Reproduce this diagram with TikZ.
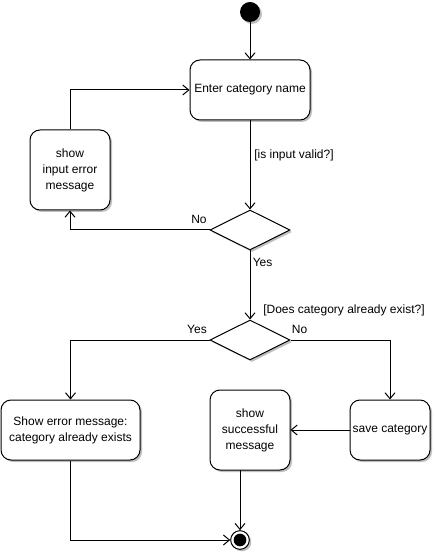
\documentclass[tikz,border=0pt]{standalone}
\usepackage{fontspec}
\setmainfont{Liberation Sans}
\usetikzlibrary{arrows.meta,shapes.geometric,shadows}
\begin{document}
\begin{tikzpicture}[x=0.75pt,y=-0.75pt,
  every node/.style={font=\fontsize{9pt}{12pt}\selectfont},
  sh/.style={drop shadow={shadow xshift=1.5pt,shadow yshift=-1.5pt,opacity=0.25,fill=black}},
  act/.style={draw,rounded corners=7.5pt,line width=0.75pt,fill=white,sh,align=center,inner sep=0pt},
  dec/.style={draw,diamond,line width=0.75pt,fill=white,sh,inner sep=0pt,minimum width=60pt,minimum height=30pt},
  lbl/.style={inner sep=0pt},
  flow/.style={line width=0.75pt,-{Straight Barb[length=4.5pt,width=7.5pt]}}]
\useasboundingbox (0,0) rectangle (435,555);
% initial
\node[circle,fill=black,minimum size=15pt,inner sep=0pt,sh] (start) at (250,12) {};
% activities
\node[act,minimum width=90pt,minimum height=45pt] (enter) at (250,90) {Enter category name};
\node[act,minimum width=60pt,minimum height=60pt] (inerr) at (70,170) {show\\input error\\message};
\node[dec] (d1) at (250,230) {};
\node[dec] (d2) at (250,340) {};
\node[act,minimum width=104.25pt,minimum height=45pt] (exerr) at (70.5,430) {Show error message:\\category already exists};
\node[act,minimum width=60pt,minimum height=60pt] (succ) at (250,430) {show\\successful\\message};
\node[act,minimum width=60pt,minimum height=45pt] (save) at (390,430) {save category};
% final
\node[circle,draw,fill=white,line width=0.75pt,minimum size=14pt,inner sep=0pt,sh] (end) at (240,540) {};
\node[circle,fill=black,minimum size=9.5pt,inner sep=0pt] (endin) at (end) {};
% connectors
\draw[flow] (start) -- (enter);
\draw[flow] (inerr.north) |- (enter.west);
\draw[flow] (enter) -- (d1.north);
\draw[flow] (d1.west) -| (inerr.south);
\draw[flow] (d1.south) -- (d2.north);
\draw[flow] (d2.west) -| (exerr.north);
\draw[flow] (d2.east) -| (save.north);
\draw[flow] (save.west) -- (succ.east);
\coordinate (sb) at (240,470);
\draw[flow] (sb) -- (end.north);
\draw[flow] (exerr.south) |- (end.west);
% labels
\node[lbl,anchor=west] (l1) at (254,155) {[is input valid?]};
\node[lbl] (l2) at (199,219) {No};
\node[lbl,anchor=west] (l3) at (252.5,262) {Yes};
\node[lbl,anchor=west] (l4) at (263,310) {[Does category already exist?]};
\node[lbl] (l5) at (197,329.5) {Yes};
\node[lbl] (l6) at (299.5,329.5) {No};
\end{tikzpicture}
\end{document}
